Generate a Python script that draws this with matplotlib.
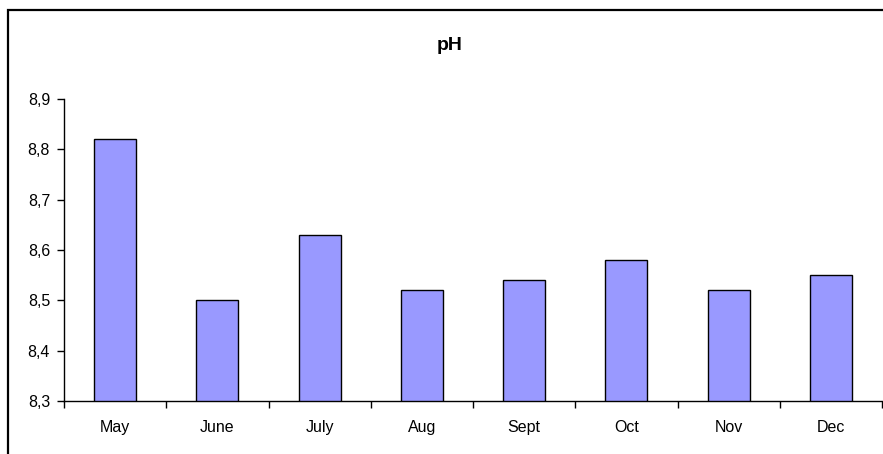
import matplotlib
matplotlib.use("Agg")
import matplotlib.pyplot as plt
from matplotlib.patches import Rectangle
from matplotlib.ticker import FixedLocator, FuncFormatter, MultipleLocator

months = ["May", "June", "July", "Aug", "Sept", "Oct", "Nov", "Dec"]
ph_values = [8.82, 8.50, 8.63, 8.52, 8.54, 8.58, 8.52, 8.55]

W, H = 883, 454
fig = plt.figure(figsize=(W / 100, H / 100), dpi=100)
fig.patch.set_facecolor("white")
plt.rcParams["font.family"] = ["Liberation Sans", "DejaVu Sans"]

ax = fig.add_axes([64 / W, (H - 401) / H, (882 - 64) / W, (401 - 99) / H])

x = list(range(len(months)))
ax.bar(x, [v - 8.3 for v in ph_values], bottom=8.3, width=0.41,
       color="#9999FF", edgecolor="black", linewidth=1.0, zorder=3)

ax.set_xlim(-0.5, len(months) - 0.5)
ax.set_ylim(8.3, 8.9)

# y axis with decimal comma
ax.yaxis.set_major_locator(MultipleLocator(0.1))
ax.yaxis.set_major_formatter(FuncFormatter(lambda v, _: f"{v:.1f}".replace(".", ",")))
ax.tick_params(axis="y", direction="out", length=5, width=1, pad=5, labelsize=11.5)

# x ticks between categories, labels centred
ax.xaxis.set_major_locator(FixedLocator([i - 0.5 for i in range(len(months) + 1)]))
ax.xaxis.set_major_formatter(FuncFormatter(lambda v, _: ""))
ax.set_xticks(x, minor=True)
ax.set_xticklabels(months, minor=True)
ax.tick_params(axis="x", which="major", direction="out", length=5, width=1)
ax.tick_params(axis="x", which="minor", length=0, pad=13.5, labelsize=11.5)

for side in ("top", "right"):
    ax.spines[side].set_visible(False)
for side in ("left", "bottom"):
    ax.spines[side].set_linewidth(1.0)

fig.text(450 / W, (H - 45) / H, "pH", ha="center", va="center",
         fontsize=14, fontweight="bold")

# chart-area frame (only left and top edges are visible in the crop)
fig.add_artist(Rectangle((8 / W, -0.1), 1.2, (H - 10) / H + 0.1,
                         transform=fig.transFigure, fill=False,
                         edgecolor="black", linewidth=1.6))

fig.savefig("out.png", dpi=100)
